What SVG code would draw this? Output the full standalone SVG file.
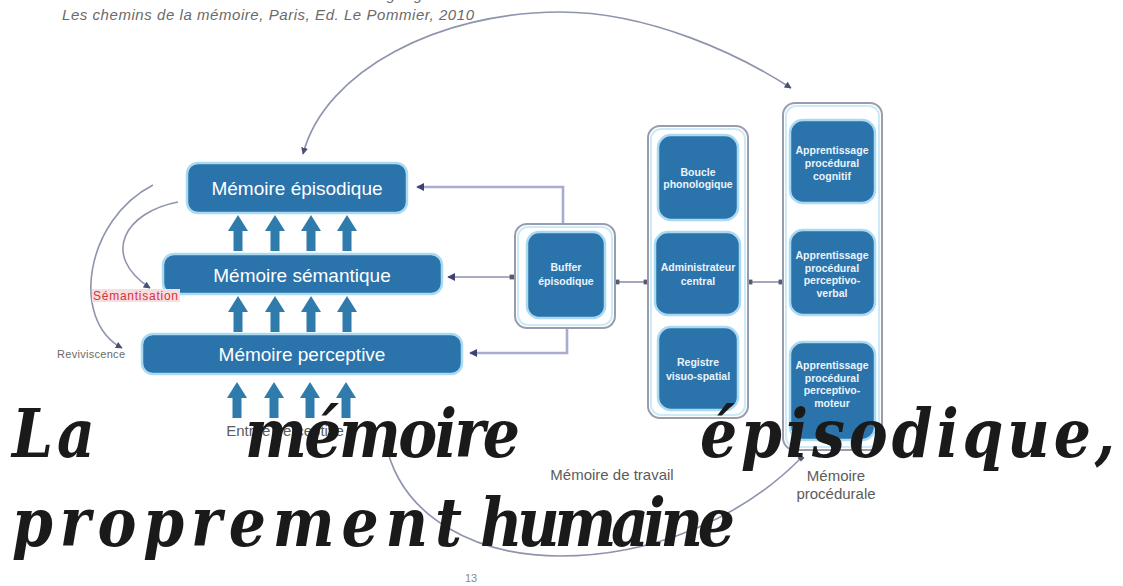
<svg xmlns="http://www.w3.org/2000/svg" width="1123" height="586" viewBox="0 0 1123 586">
<style>
.box{fill:#2a73ab;stroke:#a9daf2;stroke-width:2.5}
.grp{fill:#ffffff;stroke:#989dae;stroke-width:2}
.grpin{fill:none;stroke:#cfeaf7;stroke-width:2}
.big{font-family:"Liberation Sans",Arial,sans-serif;font-size:19px;fill:#ffffff;text-anchor:middle}
.small{font-family:"Liberation Sans",Arial,sans-serif;font-size:10.5px;font-weight:bold;fill:#eaf4fb;text-anchor:middle}
.lbl{font-family:"Liberation Sans",Arial,sans-serif;font-size:15px;fill:#5c5c5c;text-anchor:middle}
.arc{fill:none;stroke:#8e94ad;stroke-width:1.6}
.link{fill:none;stroke:#a9abcf;stroke-width:2.6}
.thin{fill:none;stroke:#8d91a6;stroke-width:1.6}
.title{font-family:"DejaVu Serif","Liberation Serif",serif;font-size:68px;font-weight:bold;font-style:italic;fill:#1a1a1a}
.up{fill:#2f7bac}
</style>
<defs>
<marker id="ah" viewBox="0 0 10 10" refX="9" refY="5" markerWidth="7" markerHeight="7" orient="auto-start-reverse" markerUnits="userSpaceOnUse">
<path d="M0 0 L10 5 L0 10 z" fill="#4a5070"/>
</marker>
<marker id="ahn" viewBox="0 0 10 10" refX="9" refY="5" markerWidth="8" markerHeight="8" orient="auto-start-reverse" markerUnits="userSpaceOnUse">
<path d="M0 0 L10 5 L0 10 z" fill="#3c4276"/>
</marker>
<marker id="dot" viewBox="0 0 10 10" refX="5" refY="5" markerWidth="6" markerHeight="6" orient="auto" markerUnits="userSpaceOnUse">
<rect x="1" y="1" width="8" height="8" fill="#555b72"/>
</marker>
<path id="up" d="M0 0 L10 16 L4.5 16 L4.5 36 L-4.5 36 L-4.5 16 L-10 16 Z"/>
</defs>

<g id="source">
<text x="60" y="0" font-family="Liberation Sans, Arial, sans-serif" font-size="15" font-style="italic" fill="#6a6a6a" textLength="377">Modèle MNESIS de Francis Eustache et Béatrice Desgranges</text>
<text x="62" y="20" font-family="Liberation Sans, Arial, sans-serif" font-size="15" font-style="italic" fill="#6a6a6a" textLength="412">Les chemins de la mémoire, Paris, Ed. Le Pommier, 2010</text>
</g>

<g id="connectors">
<path class="arc" d="M303 154 C325 70 440 12 560 12 C650 12 740 55 791 88" marker-start="url(#ah)" marker-end="url(#ah)"/>
<path class="arc" d="M385 440 C400 520 480 556 560 556 C650 556 740 520 801 458" marker-end="url(#dot)"/>
<path class="arc" d="M153 185 C85 220 70 320 122 348" marker-end="url(#ah)"/>
<path class="arc" d="M178 202 C125 212 100 255 150 288" marker-end="url(#ah)"/>
<path class="link" d="M563 224 V187 H417" marker-end="url(#ahn)"/>
<path class="link" d="M567 328 V353 H470" marker-end="url(#ahn)"/>
<path class="thin" d="M448 277 H512" marker-start="url(#ahn)" marker-end="url(#dot)"/>
<path class="thin" d="M617 282 H646" marker-start="url(#dot)" marker-end="url(#dot)"/>
<path class="thin" d="M750 282 H781" marker-start="url(#dot)" marker-end="url(#dot)"/>
<g class="up">
<use href="#up" x="238" y="215"/><use href="#up" x="275" y="215"/><use href="#up" x="311" y="215"/><use href="#up" x="347" y="215"/>
<use href="#up" x="238" y="296"/><use href="#up" x="275" y="296"/><use href="#up" x="311" y="296"/><use href="#up" x="347" y="296"/>
<use href="#up" x="237" y="382"/><use href="#up" x="274" y="382"/><use href="#up" x="310" y="382"/><use href="#up" x="346" y="382"/>
</g>
</g>

<g id="episodique">
<rect class="box" x="187" y="163" width="220" height="50" rx="11"/>
<text class="big" x="297" y="195">Mémoire épisodique</text>
</g>
<g id="semantique">
<rect class="box" x="163" y="254" width="279" height="40" rx="11"/>
<text class="big" x="302" y="282">Mémoire sémantique</text>
</g>
<g id="perceptive">
<rect class="box" x="142" y="334" width="320" height="40" rx="11"/>
<text class="big" x="302" y="361">Mémoire perceptive</text>
</g>

<g id="semantisation">
<rect x="92" y="289" width="88" height="13" fill="#f6dde0"/>
<text x="93" y="300" font-family="Liberation Sans, Arial, sans-serif" font-size="12" fill="#d8323a" textLength="85">Sémantisation</text>
</g>
<g id="reviviscence">
<text x="57" y="358" font-family="Liberation Sans, Arial, sans-serif" font-size="11" fill="#6a6a6a" textLength="68">Reviviscence</text>
</g>
<g id="entree">
<text class="lbl" x="285" y="436">Entrée perceptive</text>
</g>

<g id="buffer">
<rect class="grp" x="515" y="224" width="100" height="104" rx="12"/>
<rect class="grpin" x="518" y="227" width="94" height="98" rx="10"/>
<rect class="box" x="527" y="232" width="78" height="86" rx="12"/>
<text class="small" x="566" y="271">Buffer</text>
<text class="small" x="566" y="285">épisodique</text>
</g>

<g id="memoire-travail">
<rect class="grp" x="648" y="126" width="100" height="292" rx="12"/>
<rect class="grpin" x="651" y="129" width="94" height="286" rx="10"/>
</g>
<g id="boucle">
<rect class="box" x="658" y="135" width="80" height="85" rx="13"/>
<text class="small" x="698" y="176">Boucle</text>
<text class="small" x="698" y="188">phonologique</text>
</g>
<g id="administrateur">
<rect class="box" x="655" y="232" width="85" height="83" rx="13"/>
<text class="small" x="698" y="271">Administrateur</text>
<text class="small" x="698" y="285">central</text>
</g>
<g id="registre">
<rect class="box" x="658" y="327" width="80" height="83" rx="13"/>
<text class="small" x="698" y="366">Registre</text>
<text class="small" x="698" y="380">visuo-spatial</text>
</g>

<g id="memoire-procedurale">
<rect class="grp" x="783" y="103" width="99" height="347" rx="12"/>
<rect class="grpin" x="786" y="106" width="93" height="341" rx="10"/>
</g>
<g id="cognitif">
<rect class="box" x="790" y="120" width="85" height="83" rx="13"/>
<text class="small" x="832" y="154">Apprentissage</text>
<text class="small" x="832" y="167">procédural</text>
<text class="small" x="832" y="180">cognitif</text>
</g>
<g id="perceptivo-verbal">
<rect class="box" x="790" y="230" width="85" height="85" rx="13"/>
<text class="small" x="832" y="259">Apprentissage</text>
<text class="small" x="832" y="272">procédural</text>
<text class="small" x="832" y="284">perceptivo-</text>
<text class="small" x="832" y="297">verbal</text>
</g>
<g id="perceptivo-moteur">
<rect class="box" x="790" y="342" width="85" height="98" rx="13"/>
<text class="small" x="832" y="369">Apprentissage</text>
<text class="small" x="832" y="382">procédural</text>
<text class="small" x="832" y="394">perceptivo-</text>
<text class="small" x="832" y="407">moteur</text>
</g>

<g id="labels">
<text class="lbl" x="612" y="480">Mémoire de travail</text>
<text class="lbl" x="836" y="481">Mémoire</text>
<text class="lbl" x="836" y="499">procédurale</text>
<text x="471" y="582" font-family="Liberation Sans, Arial, sans-serif" font-size="11" fill="#8a8a8a" text-anchor="middle">13</text>
</g>

<g id="title" transform="scale(0.86,1)">
<text class="title" y="457"><tspan x="13.95" textLength="96.5">La</tspan><tspan x="284.9" textLength="319.8">mémoire</tspan><tspan x="814" textLength="482.6">épisodique,</tspan></text>
<text class="title" y="546"><tspan x="13.95" textLength="523.3">proprement</tspan><tspan x="558.1" textLength="296.5">humaine</tspan></text>
</g>
</svg>
